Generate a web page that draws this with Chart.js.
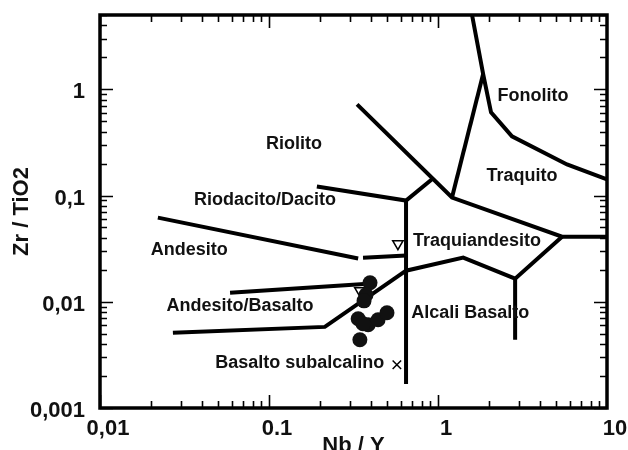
<!DOCTYPE html>
<html>
<head>
<meta charset="utf-8">
<script src="https://cdn.jsdelivr.net/npm/chart.js@4.4.1/dist/chart.umd.min.js"></script>
<style>
  html, body { margin: 0; padding: 0; background: #fff; }
</style>
</head>
<body>
<canvas id="grafico" width="628" height="450"></canvas>
<script>
const ctx = document.getElementById('grafico');

// eixos
let xTicks = [0.01, 0.1, 1, 10]
let xTickLabels = ["0,01", "0.1", "1", "10"]
let yTicks = [0.001, 0.01, 0.1, 1]
let yTickLabels = ["0,001", "0,01", "0,1", "1"]

// limites dos campos (Nb/Y , Zr/TiO2)
let limFonolitoX = [1.59, 1.85, 2.06, 2.74, 5.8, 10]
let limFonolitoY = [5, 1.39, 0.607, 0.361, 0.196, 0.1416]
let limTraquitoX = [1.21, 1.85]
let limTraquitoY = [0.0957, 1.39]
let limRiolitoX = [0.332, 1.21, 5.42, 10]
let limRiolitoY = [0.721, 0.0957, 0.041, 0.041]
let limRiodacitoX = [0.192, 0.647, 0.933]
let limRiodacitoY = [0.1216, 0.0897, 0.1445]
let limVerticalX = [0.647, 0.647]
let limVerticalY = [0.0897, 0.00168]
let limTraquiandX = [5.42, 2.86, 1.41, 0.647, 0.214, 0.027]
let limTraquiandY = [0.041, 0.01648, 0.026, 0.0196, 0.0058, 0.0051]
let limAlcaliX = [2.86, 2.86]
let limAlcaliY = [0.01648, 0.00439]
let limAndesitoX = [0.022, 0.337]
let limAndesitoY = [0.0619, 0.0255]
let limAndesito2X = [0.36, 0.647]
let limAndesito2Y = [0.026, 0.0272]
let limAndBasX = [0.0588, 0.386]
let limAndBasY = [0.01216, 0.0148]

// amostras
let amostraX = [0.396, 0.375, 0.365, 0.337, 0.386, 0.442, 0.499, 0.345, 0.36]
let amostraY = [0.0151, 0.01164, 0.0102, 0.00692, 0.00607, 0.00676, 0.00787, 0.00439, 0.0062]
let trianguloX = [0.579, 0.345]
let trianguloY = [0.0352, 0.0127]
let xisX = [0.571]
let xisY = [0.00255]

// nomes dos campos
let campos = ["Fonolito", "Riolito", "Traquito", "Riodacito/Dacito", "Andesito",
              "Traquiandesito", "Andesito/Basalto", "Alcali Basalto", "Basalto subalcalino"]
let campoX = [3.65, 0.1406, 3.14, 0.0946, 0.0337, 1.70, 0.0673, 1.55, 0.152]
let campoY = [0.859, 0.303, 0.151, 0.0897, 0.031, 0.0376, 0.00916, 0.00787, 0.00266]

const pts = (xs, ys) => xs.map((x, i) => ({ x: x, y: ys[i] }))

const linha = (xs, ys) => ({
    data: pts(xs, ys),
    showLine: true,
    borderColor: '#000',
    borderWidth: 4,
    pointRadius: 0,
    fill: false
})

// moldura, marcas internas e nomes dos campos
const moldura = {
    id: 'moldura',
    afterDatasetsDraw(chart) {
        const c = chart.ctx
        const a = chart.chartArea
        const sx = chart.scales.x
        const sy = chart.scales.y
        c.save()
        c.strokeStyle = '#000'
        c.lineWidth = 1.6
        for (let k = -2; k <= 0; k++) {
            for (let m = 1; m <= 9; m++) {
                const v = m * Math.pow(10, k)
                const px = Math.round(sx.getPixelForValue(v)) + 0.5
                const len = m === 1 ? 13 : 7
                c.beginPath()
                c.moveTo(px, a.bottom); c.lineTo(px, a.bottom - len)
                c.moveTo(px, a.top); c.lineTo(px, a.top + len)
                c.stroke()
            }
        }
        for (let k = -3; k <= 0; k++) {
            for (let m = 1; m <= 9; m++) {
                const v = m * Math.pow(10, k)
                if (v > 5) continue
                const py = Math.round(sy.getPixelForValue(v)) + 0.5
                const len = m === 1 ? 13 : 7
                c.beginPath()
                c.moveTo(a.left, py); c.lineTo(a.left + len, py)
                c.moveTo(a.right, py); c.lineTo(a.right - len, py)
                c.stroke()
            }
        }
        c.lineWidth = 3.5
        c.strokeRect(a.left, a.top, a.right - a.left, a.bottom - a.top)

        c.fillStyle = '#111'
        c.font = 'bold 18px "Liberation Sans", Arial, sans-serif'
        c.textAlign = 'center'
        c.textBaseline = 'middle'
        campos.forEach((t, i) => {
            c.fillText(t, sx.getPixelForValue(campoX[i]), sy.getPixelForValue(campoY[i]))
        })
        c.restore()
    }
}

const fonteEixo = { family: '"Liberation Sans", Arial, sans-serif', size: 22, weight: 'bold' }

new Chart(ctx, {
    type: 'scatter',
    data: {
        datasets: [
            {
                data: pts(amostraX, amostraY),
                pointRadius: 7.5,
                pointBackgroundColor: '#111',
                pointBorderWidth: 0
            },
            {
                data: pts(trianguloX, trianguloY),
                pointStyle: 'triangle',
                rotation: 180,
                pointRadius: 6,
                pointBackgroundColor: '#fff',
                pointBorderColor: '#000',
                pointBorderWidth: 1.5
            },
            {
                data: pts(xisX, xisY),
                pointStyle: 'crossRot',
                pointRadius: 6,
                pointBorderColor: '#000',
                pointBorderWidth: 1.5
            },
            linha(limFonolitoX, limFonolitoY),
            linha(limTraquitoX, limTraquitoY),
            linha(limRiolitoX, limRiolitoY),
            linha(limRiodacitoX, limRiodacitoY),
            linha(limVerticalX, limVerticalY),
            linha(limTraquiandX, limTraquiandY),
            linha(limAlcaliX, limAlcaliY),
            linha(limAndesitoX, limAndesitoY),
            linha(limAndesito2X, limAndesito2Y),
            linha(limAndBasX, limAndBasY)
        ]
    },
    options: {
        responsive: false,
        animation: false,
        layout: { padding: { top: 15, right: 21, left: 0, bottom: 0 } },
        plugins: {
            legend: { display: false },
            tooltip: { enabled: false }
        },
        scales: {
            x: {
                type: 'logarithmic',
                min: 0.01,
                max: 10,
                afterBuildTicks: s => { s.ticks = xTicks.map(v => ({ value: v })) },
                afterFit: s => { s.height = 42; s.paddingLeft = 0; s.paddingRight = 0 },
                grid: { display: false, drawTicks: false },
                border: { display: false },
                ticks: {
                    callback: (v, i) => xTickLabels[i],
                    font: fonteEixo,
                    color: '#111',
                    padding: 8,
                    labelOffset: 8,
                    maxRotation: 0,
                    autoSkip: false
                },
                title: {
                    display: true,
                    text: 'Nb / Y',
                    color: '#111',
                    font: { family: '"Liberation Sans", Arial, sans-serif', size: 22, weight: 'bold', lineHeight: 0.36 },
                    padding: { top: 0, bottom: 0 }
                }
            },
            y: {
                type: 'logarithmic',
                min: 0.001,
                max: 5,
                afterBuildTicks: s => { s.ticks = yTicks.map(v => ({ value: v })) },
                afterFit: s => { s.width = 100; s.paddingTop = 0; s.paddingBottom = 0 },
                grid: { display: false, drawTicks: false },
                border: { display: false },
                ticks: {
                    callback: (v, i) => yTickLabels[i],
                    font: fonteEixo,
                    color: '#111',
                    padding: 15,
                    labelOffset: 3,
                    autoSkip: false
                },
                title: {
                    display: true,
                    text: 'Zr / TiO2',
                    color: '#111',
                    font: { family: '"Liberation Sans", Arial, sans-serif', size: 22, weight: 'bold', lineHeight: 1 },
                    padding: { top: 11, bottom: 0 }
                }
            }
        }
    },
    plugins: [moldura]
});
</script>
</body>
</html>
